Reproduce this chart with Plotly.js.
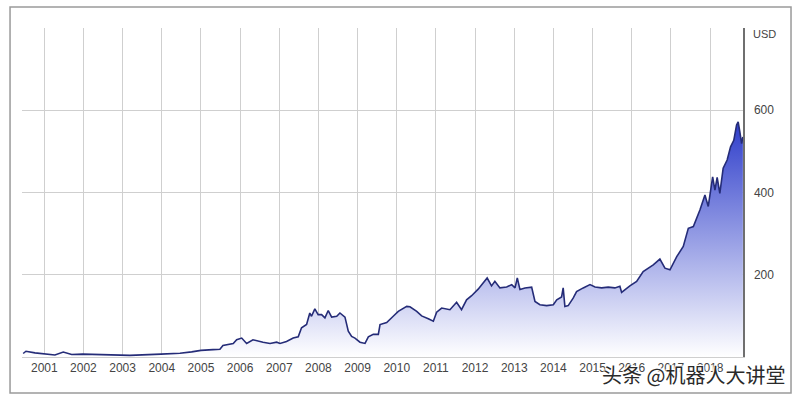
<!DOCTYPE html>
<html>
<head>
<meta charset="utf-8">
<script src="https://cdn.plot.ly/plotly-3.0.1.min.js"></script>
<style>html,body{margin:0;padding:0;background:#fff;}#chart{width:800px;height:398px;}</style>
</head>
<body>
<div id="chart"></div>
<script>
// Dates and closing prices (USD)
const dates = [
  "2000-06-18","2000-07-14","2000-10-06","2001-01-01","2001-04-10","2001-06-27","2001-09-13","2001-12-25",
  "2002-06-04","2003-01-01","2003-03-10","2003-12-24","2004-06-19","2004-10-06","2005-01-01","2005-04-23",
  "2005-06-27","2005-07-25","2005-10-29","2005-11-30","2006-01-16","2006-03-03","2006-05-01","2006-08-03",
  "2006-10-07","2006-12-08","2007-01-08","2007-03-10","2007-05-11","2007-06-27","2007-07-28","2007-09-13",
  "2007-10-13","2007-10-29","2007-11-29","2007-12-30","2008-01-31","2008-03-02","2008-04-02","2008-05-04",
  "2008-06-20","2008-07-20","2008-09-05","2008-10-06","2008-11-06","2008-12-07","2009-01-23","2009-03-11",
  "2009-04-11","2009-05-27","2009-07-13","2009-07-29","2009-09-29","2009-11-29","2010-01-15","2010-04-04",
  "2010-05-04","2010-07-06","2010-08-21","2010-10-22","2010-12-08","2011-01-08","2011-02-24","2011-05-12",
  "2011-07-13","2011-08-28","2011-10-14","2011-11-30","2012-01-30","2012-04-23","2012-06-03","2012-07-04",
  "2012-08-20","2012-10-22","2012-12-08","2013-01-08","2013-01-29","2013-02-23","2013-04-11","2013-06-12",
  "2013-07-13","2013-08-28","2013-10-30","2013-12-31","2014-02-01","2014-03-18","2014-04-02","2014-04-18",
  "2014-05-19","2014-07-04","2014-08-05","2014-10-06","2014-12-08","2015-01-24","2015-03-27","2015-05-27",
  "2015-07-28","2015-09-13","2015-09-29","2015-12-15","2016-02-16","2016-04-17","2016-07-20","2016-09-20",
  "2016-11-06","2016-12-23","2017-02-24","2017-04-26","2017-06-12","2017-07-29","2017-08-29","2017-09-29",
  "2017-11-14","2017-12-15","2018-01-25","2018-02-15","2018-03-08","2018-04-02","2018-05-03","2018-06-09",
  "2018-07-11","2018-08-10","2018-09-05","2018-09-20","2018-10-06","2018-10-22","2018-11-03"
];
const prices = [
  8.5,14,10,8,5,12,6,7,
  6,5,4,7,9,12.5,16,18,
  19,28,33,42,46,33,42,36,
  33,36,33,37.5,46,49,71,79,
  107,99,117,103,103,95,113,97,
  99,107,97,63,50,46,36,33,
  49,55,55,79,84,99,111,123,
  122,111,100,93,87,109,119,115,
  133,115,139,149,165,192,173,184,
  168,170,176,168,192,164,168,170,
  135,127,125,127,139,146,168,123,
  125,143,159,168,176,170,168,170,
  168,172,157,173,184,208,224,238,
  216,212,244,269,313,317,337,358,
  394,366,438,406,437,398,459,479,
  511,527,564,572,547,519,535
];
const yTicks = [200, 400, 600];
const yTickText = ["200", "400", "600"];
const unitLabel = "USD";
const watermark = "头条 @机器人大讲堂";

const trace = {
  x: dates, y: prices, type: "scatter", mode: "lines",
  line: {color: "#252c78", width: 1.6},
  fill: "tozeroy",
  fillgradient: {type: "vertical", start: 0, stop: 600,
    colorscale: [[0, "rgba(255,255,255,1)"], [1, "rgb(36,52,200)"]]},
  hoverinfo: "skip"
};

const layout = {
  width: 800, height: 398,
  margin: {l: 22, r: 57, t: 28, b: 41},
  paper_bgcolor: "#fff", plot_bgcolor: "#fff",
  showlegend: false,
  font: {family: "Liberation Sans, Arial, sans-serif", size: 12, color: "#444"},
  xaxis: {
    type: "date", range: ["2000-06-07", "2018-11-04"],
    tick0: "2001-01-01", dtick: "M12", tickformat: "%Y",
    showgrid: true, gridcolor: "#cfcfcf", gridwidth: 1,
    showline: true, linecolor: "#cfcfcf", linewidth: 1,
    ticks: "", zeroline: false, fixedrange: true,
    tickfont: {size: 12, color: "#444"}
  },
  yaxis: {
    side: "right", range: [0, 800],
    tickmode: "array", tickvals: yTicks, ticktext: yTickText,
    showgrid: true, gridcolor: "#cfcfcf", gridwidth: 1,
    showline: true, linecolor: "#6f6f6f", linewidth: 1.5,
    ticks: "", zeroline: false, fixedrange: true,
    ticklabelstandoff: 7,
    tickfont: {size: 12, color: "#444"}
  },
  shapes: [{
    type: "rect", xref: "paper", yref: "paper",
    x0: -0.0166, x1: 1.0666, y0: -0.1094, y1: 1.0638,
    line: {color: "#9a9a9a", width: 1.5}, fillcolor: "rgba(0,0,0,0)", layer: "below"
  }],
  annotations: [
    {text: unitLabel, xref: "paper", yref: "paper", x: 1, y: 0.982,
     xanchor: "left", yanchor: "middle", xshift: 8, showarrow: false,
     font: {size: 11, color: "#444"}},
    {text: watermark, xref: "paper", yref: "paper", x: 0.932, y: -0.0547,
     xanchor: "center", yanchor: "middle", showarrow: false,
     font: {family: "Noto Sans CJK SC, sans-serif", size: 20, color: "#2a2a2a",
            shadow: "1px 1px 1px #fff, -1px -1px 1px #fff, 1px -1px 1px #fff, -1px 1px 1px #fff"}}
  ]
};

Plotly.newPlot("chart", [trace], layout, {displayModeBar: false, staticPlot: true});
</script>
</body>
</html>
